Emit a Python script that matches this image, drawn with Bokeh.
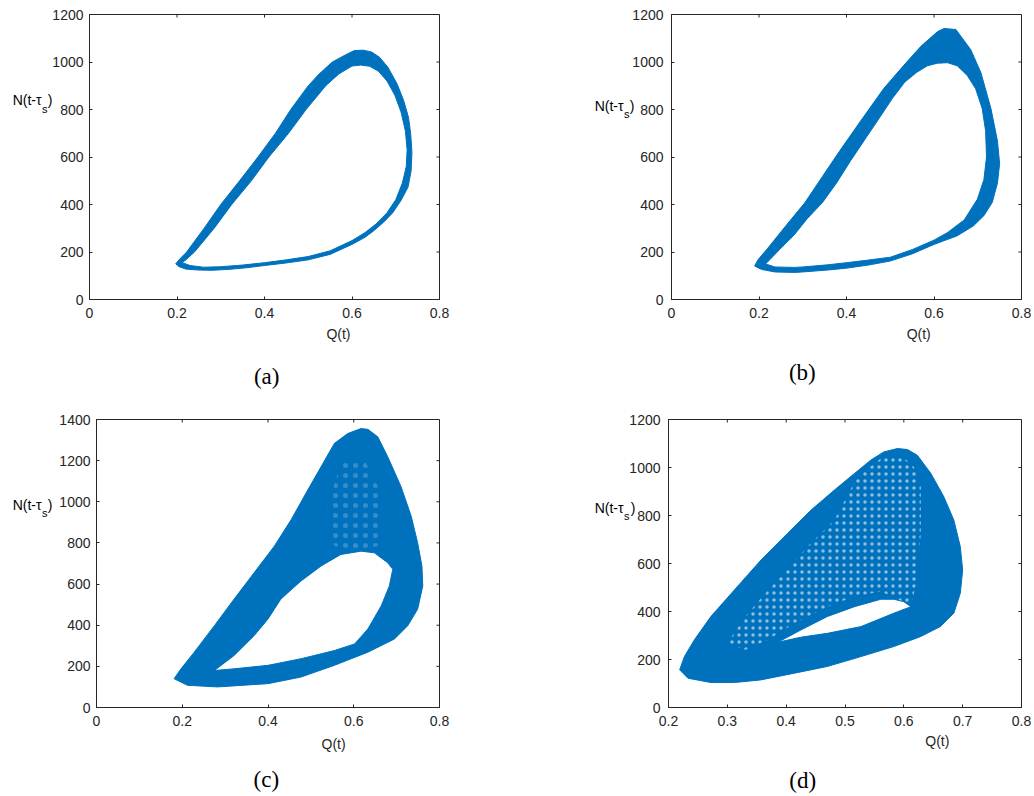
from bokeh.plotting import figure
from bokeh.layouts import column, row
from bokeh.models import Range1d, FixedTicker, LinearAxis, NumeralTickFormatter
from bokeh.embed import file_html
from bokeh.resources import INLINE

BLUE = "#0072BD"
AX = "#262626"

# ---------------- data ----------------
# (a) band: outer and inner boundaries
A_OUT_Q = [0.197, 0.205, 0.22, 0.25, 0.28, 0.32, 0.36, 0.40, 0.45, 0.50, 0.55, 0.60, 0.63, 0.65, 0.672, 0.693, 0.712, 0.728, 0.735, 0.737, 0.734, 0.729, 0.718, 0.703, 0.682, 0.663, 0.645, 0.625, 0.605, 0.585, 0.555, 0.525, 0.50, 0.46, 0.425, 0.385, 0.343, 0.30, 0.262, 0.222, 0.205]
A_OUT_N = [150, 138, 128, 124, 123, 127, 134, 143, 154, 167, 190, 232, 262, 290, 325, 365, 417, 473, 540, 620, 700, 768, 838, 908, 978, 1020, 1042, 1050, 1048, 1030, 1000, 950, 900, 800, 700, 600, 500, 400, 300, 200, 168]
A_IN_Q = [0.212, 0.23, 0.26, 0.30, 0.35, 0.40, 0.45, 0.50, 0.55, 0.60, 0.63, 0.655, 0.68, 0.70, 0.715, 0.724, 0.726, 0.722, 0.712, 0.698, 0.68, 0.66, 0.64, 0.62, 0.60, 0.57, 0.54, 0.495, 0.455, 0.41, 0.37, 0.325, 0.285, 0.24, 0.222]
A_IN_N = [155, 143, 136, 138, 145, 155, 167, 181, 205, 248, 282, 318, 365, 420, 490, 560, 630, 710, 790, 860, 920, 962, 982, 987, 983, 950, 900, 800, 700, 600, 500, 400, 300, 200, 170]

# (b) band
B_OUT_Q = [0.19, 0.205, 0.236, 0.281, 0.30, 0.357, 0.40, 0.45, 0.50, 0.55, 0.60, 0.653, 0.69, 0.714, 0.733, 0.745, 0.75, 0.745, 0.73, 0.707, 0.684, 0.65, 0.623, 0.608, 0.57, 0.53, 0.485, 0.432, 0.385, 0.345, 0.305, 0.262, 0.22, 0.198]
B_OUT_N = [141, 127, 116, 114, 116, 124, 132, 145, 162, 192, 232, 268, 310, 353, 408, 490, 572, 668, 805, 956, 1052, 1137, 1141, 1128, 1066, 984, 888, 751, 627, 518, 408, 312, 216, 168]
B_IN_Q = [0.215, 0.236, 0.281, 0.30, 0.357, 0.40, 0.45, 0.50, 0.55, 0.60, 0.631, 0.669, 0.699, 0.714, 0.72, 0.718, 0.71, 0.695, 0.676, 0.653, 0.631, 0.608, 0.585, 0.56, 0.533, 0.505, 0.475, 0.445, 0.41, 0.377, 0.345, 0.31, 0.28, 0.25, 0.225]
B_IN_N = [150, 137, 135, 137, 146, 155, 166, 178, 210, 250, 282, 335, 422, 504, 600, 710, 805, 888, 943, 984, 997, 995, 984, 956, 915, 847, 764, 682, 586, 490, 408, 340, 271, 216, 168]

# (c) filled region and hole
C_OUT_Q = [0.181, 0.212, 0.282, 0.40, 0.477, 0.555, 0.633, 0.695, 0.726, 0.749, 0.761, 0.759, 0.749, 0.734, 0.71, 0.679, 0.656, 0.633, 0.617, 0.586, 0.555, 0.524, 0.493, 0.454, 0.415, 0.368, 0.321, 0.275, 0.228, 0.197]
C_OUT_N = [140, 108, 100, 116, 148, 205, 269, 333, 398, 478, 591, 688, 801, 930, 1075, 1220, 1316, 1352, 1356, 1332, 1284, 1171, 1058, 913, 785, 656, 527, 398, 269, 188]
C_IN_Q = [0.275, 0.321, 0.368, 0.40, 0.43, 0.477, 0.524, 0.57, 0.617, 0.648, 0.679, 0.691, 0.683, 0.664, 0.633, 0.602, 0.555, 0.477, 0.40, 0.321]
C_IN_N = [180, 253, 350, 430, 527, 615, 688, 744, 760, 752, 704, 672, 591, 494, 382, 309, 277, 237, 205, 188]
C_MESH_Q = [0.539, 0.570, 0.625, 0.656, 0.656, 0.602, 0.555]
C_MESH_N = [978, 1187, 1203, 1075, 785, 768, 785]

# (d) filled region and hole
D_OUT_Q = [0.219, 0.233, 0.272, 0.312, 0.357, 0.414, 0.47, 0.527, 0.583, 0.628, 0.662, 0.685, 0.696, 0.70, 0.696, 0.685, 0.668, 0.646, 0.623, 0.606, 0.589, 0.566, 0.544, 0.516, 0.482, 0.442, 0.402, 0.357, 0.312, 0.272, 0.244, 0.227]
D_OUT_N = [157, 122, 104, 104, 115, 143, 171, 212, 254, 295, 337, 393, 476, 573, 670, 781, 878, 975, 1051, 1075, 1079, 1065, 1031, 975, 906, 822, 725, 614, 490, 379, 282, 212]
D_IN_Q = [0.386, 0.425, 0.47, 0.516, 0.561, 0.583, 0.60, 0.612, 0.583, 0.527, 0.47, 0.425]
D_IN_N = [272, 323, 379, 420, 451, 451, 441, 420, 393, 337, 309, 293]
D_MESH_Q = [0.30, 0.335, 0.385, 0.436, 0.482, 0.521, 0.561, 0.595, 0.617, 0.629, 0.629, 0.62, 0.612, 0.561, 0.516, 0.47, 0.414, 0.369, 0.33]
D_MESH_N = [270, 393, 531, 670, 781, 961, 1037, 1051, 1003, 920, 725, 503, 427, 483, 462, 420, 351, 282, 240]

X_TICKS_0 = [0, 0.2, 0.4, 0.6, 0.8]
X_TICKS_D = [0.2, 0.3, 0.4, 0.5, 0.6, 0.7, 0.8]
Y_TICKS_1200 = [0, 200, 400, 600, 800, 1000, 1200]
Y_TICKS_1400 = [0, 200, 400, 600, 800, 1000, 1200, 1400]

X_LABEL = "Q(t)"
Y_LABEL_MAIN = "N(t-τ"
Y_LABEL_SUB = "s"
Y_LABEL_END = ")"
CAPTIONS = ["(a)", "(b)", "(c)", "(d)"]

SANS = "Liberation Sans"
SERIF = "Liberation Serif"


def text_axis(ticks, overrides, font, size, color, standoff):
    return LinearAxis(ticker=FixedTicker(ticks=ticks), major_label_overrides=overrides,
                      major_label_text_font=font, major_label_text_font_size=size,
                      major_label_text_color=color, major_label_standoff=standoff,
                      axis_line_color=None, major_tick_line_color=None,
                      minor_tick_line_color=None, major_tick_in=0, major_tick_out=0)


def make_fig(width, height, bl, br, bt, bb, xr, yr, xt, yt, ystand):
    p = figure(width=width, height=height, output_backend="svg", toolbar_location=None,
               x_range=Range1d(*xr), y_range=Range1d(*yr),
               min_border_left=bl, min_border_right=br, min_border_top=bt, min_border_bottom=bb,
               background_fill_color="white", border_fill_color="white")
    p.grid.visible = False
    p.outline_line_color = AX
    p.outline_line_width = 1
    for ax in (p.xaxis[0], p.yaxis[0]):
        ax.axis_line_color = AX
        ax.major_tick_line_color = AX
        ax.major_tick_in = 3
        ax.major_tick_out = 0
        ax.minor_tick_line_color = None
        ax.major_label_text_font = SANS
        ax.major_label_text_font_size = "14px"
        ax.major_label_text_color = AX
    p.xaxis[0].ticker = FixedTicker(ticks=xt)
    p.xaxis[0].formatter = NumeralTickFormatter(format="0.[0]")
    p.xaxis[0].major_label_standoff = 8
    p.yaxis[0].ticker = FixedTicker(ticks=yt)
    p.yaxis[0].major_label_standoff = ystand
    # mirrored inward ticks on the top and right edges (box on)
    p.ray(x=xt, y=[yr[1]] * len(xt), length=3, length_units="screen", angle=-90,
          angle_units="deg", line_color=AX, line_width=1)
    p.ray(x=[xr[1]] * len(yt), y=yt, length=3, length_units="screen", angle=180,
          angle_units="deg", line_color=AX, line_width=1)
    return p


def add_texts(p, qx, q_stand, ny, ny_sub, n_stand, cx, c_stand, cap):
    p.add_layout(text_axis([qx], {qx: X_LABEL}, SANS, "14px", AX, q_stand), "below")
    p.add_layout(text_axis([cx], {cx: cap}, SERIF, "23px", "black", c_stand), "below")
    # y label built right-to-left: ")" then subscript "s" then "N(t-τ"
    p.add_layout(text_axis([ny], {ny: Y_LABEL_END}, SANS, "14px", "black", n_stand), "left")
    p.add_layout(text_axis([ny_sub], {ny_sub: Y_LABEL_SUB}, SANS, "11px", "black", -3), "left")
    p.add_layout(text_axis([ny], {ny: Y_LABEL_MAIN}, SANS, "14px", "black", -3), "left")


# (a)
pa = make_fig(560, 400, 89, 121, 14, 101, (0, 0.8), (0, 1200), X_TICKS_0, Y_TICKS_1200, 6)
pa.multi_polygons(xs=[[[A_OUT_Q, A_IN_Q]]], ys=[[[A_OUT_N, A_IN_N]]],
                  fill_color=BLUE, line_color=BLUE, line_width=1)
add_texts(pa, 0.569, 5, 838, 804, -3, 0.405, 19, CAPTIONS[0])

# (b)
pb = make_fig(471, 400, 111, 10, 14, 96, (0, 0.8), (0, 1200), X_TICKS_0, Y_TICKS_1200, 8)
pb.multi_polygons(xs=[[[B_OUT_Q, B_IN_Q]]], ys=[[[B_OUT_N, B_IN_N]]],
                  fill_color=BLUE, line_color=BLUE, line_width=1)
add_texts(pb, 0.565, 5, 815, 782, -5, 0.299, 15, CAPTIONS[1])

# (c)
pc = make_fig(560, 396, 96, 121, 19, 88, (0, 0.8), (0, 1400), X_TICKS_0, Y_TICKS_1400, 6)
pc.multi_polygons(xs=[[[C_OUT_Q, C_IN_Q]]], ys=[[[C_OUT_N, C_IN_N]]],
                  fill_color=BLUE, line_color=BLUE, line_width=1)
pc.patch(C_MESH_Q, C_MESH_N, fill_alpha=0, line_alpha=0, hatch_pattern=".",
         hatch_color="white", hatch_scale=10, hatch_alpha=0.2, hatch_weight=1)
add_texts(pc, 0.553, 7, 983, 944, 4, 0.396, 12, CAPTIONS[2])

# (d)
pd_ = make_fig(471, 396, 108, 10, 19, 89, (0.2, 0.8), (0, 1200), X_TICKS_D, Y_TICKS_1200, 8)
pd_.multi_polygons(xs=[[[D_OUT_Q, D_IN_Q]]], ys=[[[D_OUT_N, D_IN_N]]],
                   fill_color=BLUE, line_color=BLUE, line_width=1)
pd_.patch(D_MESH_Q, D_MESH_N, fill_alpha=0, line_alpha=0, hatch_pattern=".",
          hatch_color="white", hatch_scale=7, hatch_alpha=0.55, hatch_weight=1)
add_texts(pd_, 0.657, 4, 833, 800, -9, 0.428, 16, CAPTIONS[3])

layout = column(row(pa, pb), row(pc, pd_))
open("out.html", "w").write(file_html(layout, INLINE))
